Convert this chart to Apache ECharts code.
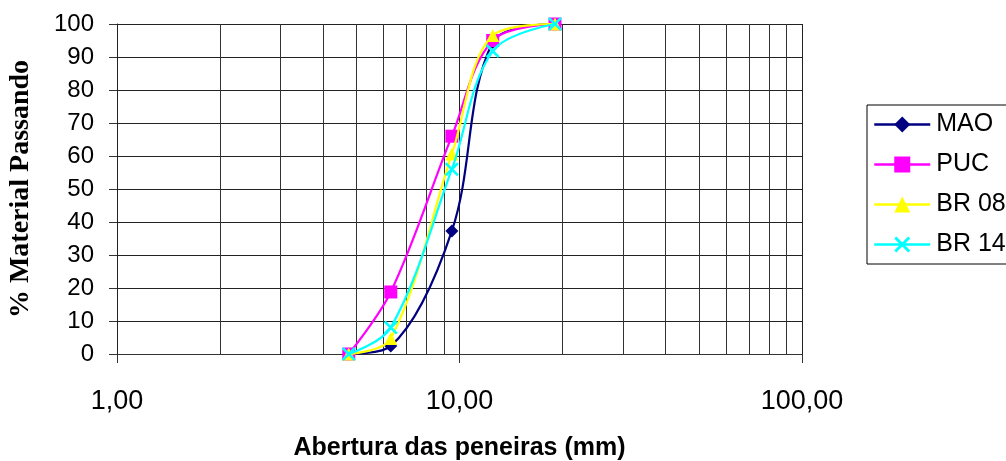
<!DOCTYPE html>
<html>
<head>
<meta charset="utf-8">
<script src="https://cdn.jsdelivr.net/npm/echarts@6/dist/echarts.min.js"></script>
<style>html,body{margin:0;padding:0;background:#fff;}#c{width:1006px;height:461px;}</style>
</head>
<body>
<div id="c"></div>
<script>
const sieveSizes = [4.75, 6.3, 9.5, 12.5, 19.0];
const seriesNames = ['MAO', 'PUC', 'BR 08', 'BR 14'];
const mao = [0, 2.4, 37.3, 94.5, 100];
const puc = [0, 18.8, 66, 95, 100];
const br08 = [0, 4.7, 60.6, 96.5, 100];
const br14 = [0, 8, 56, 91.8, 100];
const minorTicks = [2, 3, 4, 5, 6, 7, 8, 9, 20, 30, 40, 50, 60, 70, 80, 90];

const colors = ['#000080', '#FF00FF', '#FFFF00', '#00FFFF'];
const xPath = 'path://M0,1.3L1.3,0L5,3.7L8.7,0L10,1.3L6.3,5L10,8.7L8.7,10L5,6.3L1.3,10L0,8.7L3.7,5Z';
const symbols = ['diamond', 'rect', 'triangle', xPath];
const values = [mao, puc, br08, br14];

const chart = echarts.init(document.getElementById('c'));
const lineSeries = seriesNames.map((name, i) => ({
  name: name,
  type: 'line',
  smooth: 0.35,
  data: sieveSizes.map((s, j) => [s, values[i][j]]),
  symbol: symbols[i],
  symbolSize: i === 3 ? 14 : 13,
  showAllSymbol: true,
  lineStyle: { color: colors[i], width: 2.2 },
  itemStyle: { color: colors[i], opacity: 1 },
  emphasis: { disabled: true },
  z: 3 + i
}));

chart.setOption({
  animation: false,
  textStyle: { fontFamily: 'Liberation Sans, Arial, sans-serif' },
  grid: { left: 117, right: 204, top: 24, bottom: 107, outerBoundsMode: 'none', containLabel: false },
  legend: {
    data: seriesNames,
    orient: 'vertical',
    left: 867,
    top: 105,
    padding: [7, 30, 7, 6],
    itemGap: 15,
    itemWidth: 56,
    itemHeight: 20,
    borderColor: '#000',
    borderWidth: 1,
    lineStyle: { width: 2.5 },
    textStyle: { fontSize: 25, color: '#000', fontFamily: 'Liberation Sans, Arial, sans-serif', padding: [0, 0, 0, 1] }
  },
  xAxis: {
    type: 'log',
    logBase: 10,
    min: 1,
    max: 100,
    name: 'Abertura das peneiras (mm)',
    nameLocation: 'middle',
    nameGap: 82,
    nameTextStyle: { fontSize: 25, fontWeight: 'bold', color: '#000', fontFamily: 'Liberation Sans, Arial, sans-serif' },
    axisLine: { show: true, lineStyle: { color: '#333', width: 1 } },
    axisTick: { show: true, length: 9, lineStyle: { color: '#333' } },
    axisLabel: {
      margin: 34,
      fontSize: 27,
      color: '#000',
      formatter: v => v.toFixed(2).replace('.', ',')
    },
    splitLine: { show: true, lineStyle: { color: '#222', width: 1 } },
    minorTick: { show: false },
    minorSplitLine: { show: false }
  },
  yAxis: {
    type: 'value',
    min: 0,
    max: 100,
    interval: 10,
    name: '% Material Passando',
    nameLocation: 'middle',
    nameGap: 82,
    nameRotate: 90,
    nameTextStyle: { fontSize: 28, fontWeight: 'bold', color: '#000', fontFamily: 'Liberation Serif, Times New Roman, serif' },
    axisLine: { show: true, lineStyle: { color: '#222', width: 1 } },
    axisTick: { show: true, inside: false, length: 8, lineStyle: { color: '#333' } },
    axisLabel: { margin: 23, fontSize: 24, color: '#000' },
    splitLine: { show: true, lineStyle: { color: '#222', width: 1 } }
  },
  series: [
    {
      name: 'minor-grid',
      type: 'line',
      data: [],
      silent: true,
      z: 1,
      markLine: {
        silent: true,
        z: 1,
        symbol: ['none', 'none'],
        label: { show: false },
        animation: false,
        lineStyle: { color: '#333', width: 1, type: 'solid' },
        emphasis: { disabled: true },
        data: minorTicks.map(v => ({ xAxis: v }))
      }
    }
  ].concat(lineSeries)
});
</script>
</body>
</html>
